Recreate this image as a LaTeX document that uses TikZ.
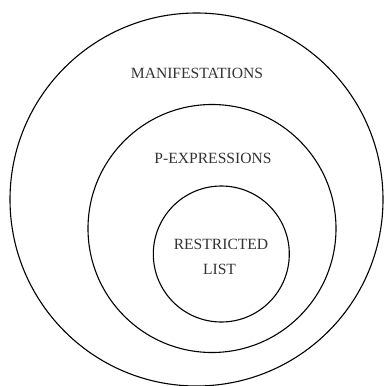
\documentclass[tikz,border=0pt]{standalone}
\usepackage{fontspec}
\setmainfont{Liberation Serif}
\begin{document}
\begin{tikzpicture}[x=1pt,y=-1pt,
  ring/.style={draw=black,line width=1.1pt},
  lbl/.style={font=\fontsize{15.6}{26}\selectfont,text=black!80,inner sep=0pt,align=center}]
\useasboundingbox (0,0) rectangle (384,386);
\draw[ring] (196.5,199.5) circle[radius=186.5];
\draw[ring] (212,228.5) circle[radius=124];
\draw[ring] (221.3,254) circle[radius=68];
\node[lbl] (man) at (197,73) {MANIFESTATIONS};
\node[lbl] (pexp) at (213,158) {P-EXPRESSIONS};
\node[lbl] (rl) at (221,257) {RESTRICTED\\[-1pt]\hspace*{-3pt}LIST};
\end{tikzpicture}
\end{document}
